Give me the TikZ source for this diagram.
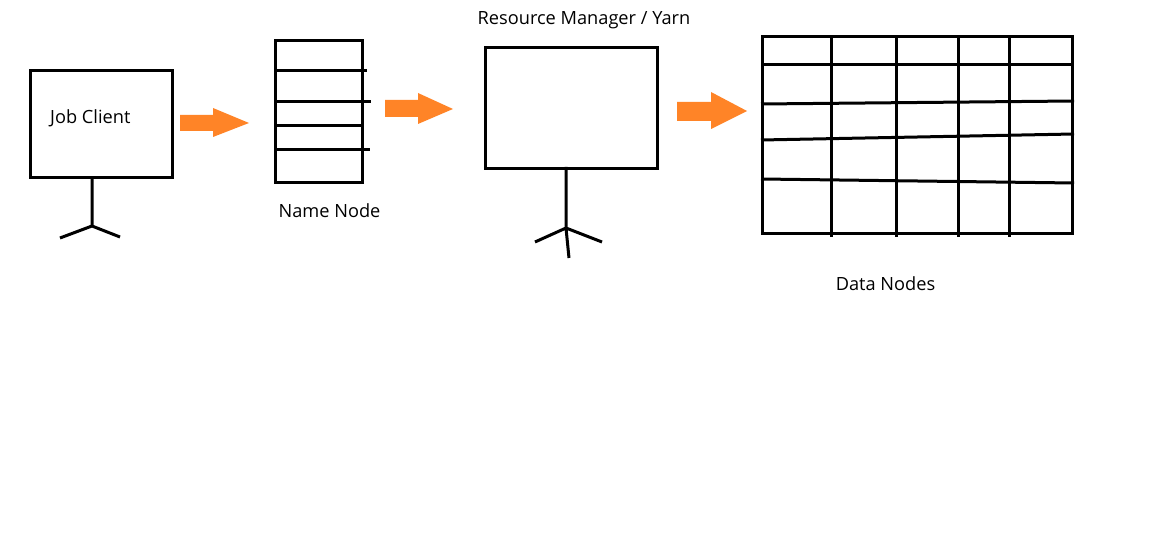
\documentclass[tikz,border=0pt]{standalone}
\usepackage{fontspec}
\setmainfont{Open Sans}
\begin{document}
\begin{tikzpicture}[x=1pt,y=-1pt,
  ln/.style={line width=3pt,black},
  box/.style={draw,line width=3pt,inner sep=0pt,anchor=north west},
  lbl/.style={font=\fontsize{18.2}{22}\selectfont,inner sep=0pt},
  blockarrow/.style={fill=arrowor,draw=none}]
\definecolor{arrowor}{HTML}{FF8427}
\useasboundingbox[fill=white] (0,0) rectangle (1165,553);

% Job client
\node[box,minimum width=142pt,minimum height=107pt] (jc) at (29,69.5) {};
\node[lbl,anchor=west] (jct) at (50,118) {Job Client};
\coordinate (jcs) at (92,177);
\coordinate (jcf) at (92,226);
\coordinate (jcl) at (60,238);
\coordinate (jcr) at (120,237);
\draw[ln] (jcs) -- (jcf) (jcl) -- (jcf) -- (jcr);

% arrow 1
\fill[blockarrow] (180,115) -- (213,115) -- (213,108) -- (249,123) -- (213,137) -- (213,131) -- (180,131) -- cycle;

% Name node
\node[box,minimum width=87pt,minimum height=142pt] (nn) at (274,39.5) {};
\coordinate (n1) at (274,71);
\coordinate (n2) at (274,102);
\coordinate (n3) at (274,126);
\coordinate (n4) at (274,150);
\draw[ln] (n1) -- +(93,0) (n2) -- +(97,0) (n3) -- +(89,0) (n4) -- +(96,0);
\node[lbl] (nnt) at (329.5,211) {Name Node};

% arrow 2
\fill[blockarrow] (385,100) -- (418,100) -- (418,93) -- (453,109) -- (418,124) -- (418,117) -- (385,117) -- cycle;

% Resource manager
\node[box,minimum width=172pt,minimum height=121pt] (rm) at (484,46.5) {};
\node[lbl] (rmt) at (584,20) {Resource Manager / Yarn};
\coordinate (rms) at (566,167);
\coordinate (rmf) at (566,228);
\coordinate (rml) at (535,242);
\coordinate (rmr) at (602,242);
\coordinate (rmb) at (569,258);
\draw[ln] (rms) -- (rmf) (rml) -- (rmf) -- (rmr) (rmf) -- (rmb);

% arrow 3
\fill[blockarrow] (677,102) -- (711,102) -- (711,92) -- (747,111) -- (711,129) -- (711,121) -- (677,121) -- cycle;

% Data nodes grid
\node[box,minimum width=310pt,minimum height=197pt] (dn) at (761,35.5) {};
\foreach \x in {831,896,958,1009}
  \draw[ln] (\x,35.5) -- (\x,237);
\draw[ln] (761,65) -- (1074,65);
\draw[ln] (761,104) -- (1074,101);
\draw[ln] (761,140) -- (1074,134);
\draw[ln] (761,179) -- (1074,183);
\node[lbl] (dnt) at (885.5,284) {Data Nodes};
\end{tikzpicture}
\end{document}
